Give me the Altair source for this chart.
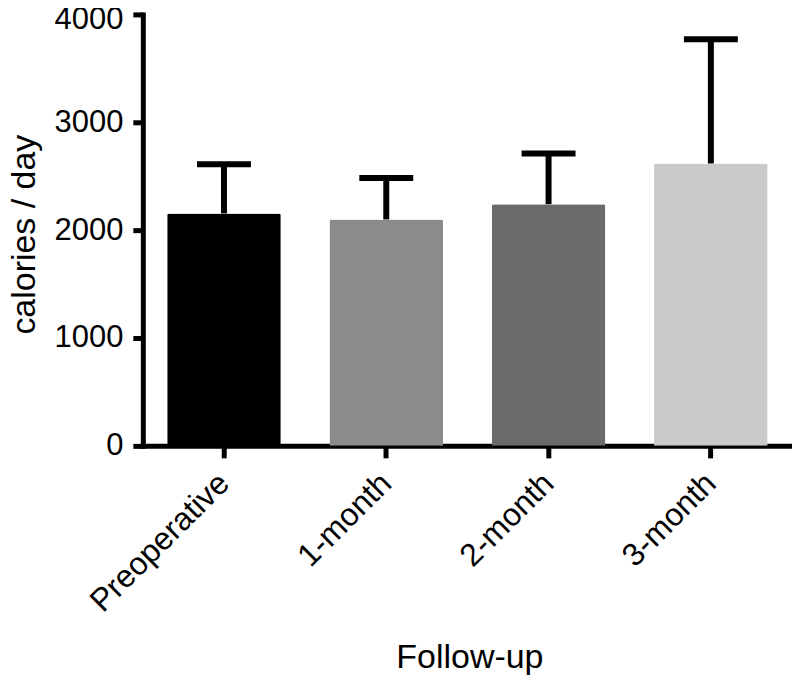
import altair as alt
import pandas as pd

categories = ["Preoperative", "1-month", "2-month", "3-month"]
means = [2155, 2099, 2241, 2618]
sds = [456, 385, 469, 1151]
colors = ["#000000", "#8b8b8b", "#6b6b6b", "#c9c9c9"]

df = pd.DataFrame({"cat": categories, "mean": means, "sd": sds, "color": colors})
df["upper"] = df["mean"] + df["sd"]

FONT = "Liberation Sans"

x_axis = alt.Axis(
    title="Follow-up",
    titleX=327,
    titleY=222,
    titleBaseline="alphabetic",
    labelAngle=-45,
    labelAlign="right",
    labelBaseline="middle",
    labelFontSize=32,
    labelPadding=20,
    labelLimit=400,
    tickSize=12,
)
x_scale = alt.Scale(paddingInner=0.3, paddingOuter=0.15)

y_scale = alt.Scale(domain=[0, 4000], nice=False)
y_axis = alt.Axis(
    title="calories / day",
    titleX=-108,
    titleY=220,
    titleAngle=-90,
    titleBaseline="alphabetic",
    values=[0, 1000, 2000, 3000, 4000],
    format="d",
    labelFontSize=31,
    labelPadding=10,
    labelOffset={"condition": {"test": "datum.value >= 4000", "value": 5}, "value": 0},
    tickSize=10,
    grid=False,
)

base = alt.Chart(df)

bars = base.mark_bar(cornerRadiusTopLeft=2, cornerRadiusTopRight=2).encode(
    x=alt.X("cat:N", sort=categories, scale=x_scale, axis=x_axis),
    y=alt.Y("mean:Q", scale=y_scale, axis=y_axis),
    color=alt.Color("color:N", scale=None),
)

stems = base.mark_rule(color="black", strokeWidth=6, opacity=1).encode(
    x=alt.X("cat:N", sort=categories, scale=x_scale, axis=x_axis),
    y=alt.Y("mean:Q", scale=y_scale, axis=y_axis),
    y2="upper:Q",
)

caps = base.mark_tick(color="black", thickness=6, size=54, opacity=1).encode(
    x=alt.X("cat:N", sort=categories, scale=x_scale, axis=x_axis),
    y=alt.Y("upper:Q", scale=y_scale, axis=y_axis),
)

chart = (
    alt.layer(bars, stems, caps)
    .properties(
        width=650,
        height=432,
        background="white",
        autosize=alt.AutoSizeParams(type="none"),
        padding={"left": 135, "top": 6, "right": 0, "bottom": 230},
    )
    .configure_view(stroke=None)
    .configure_axis(
        labelFont=FONT,
        labelColor="black",
        titleFont=FONT,
        titleFontSize=34,
        titleFontWeight="normal",
        titleColor="black",
        tickWidth=5,
        tickColor="black",
        domainColor="black",
        domainWidth=5,
        domainCap="square",
        grid=False,
    )
)

chart.save("out.html", embed_options={"renderer": "svg", "actions": False})
